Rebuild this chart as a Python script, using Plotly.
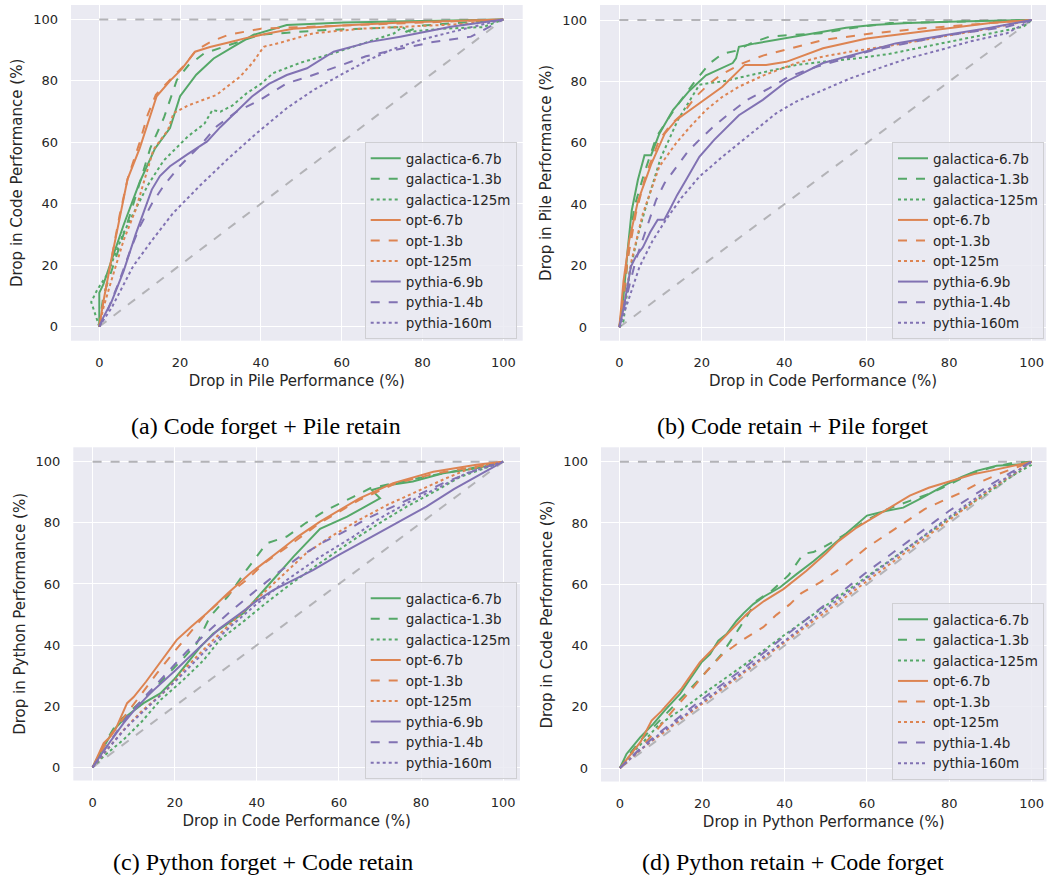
import plotly.graph_objects as go

# ---------------- data ----------------
series_names = ["galactica-6.7b", "galactica-1.3b", "galactica-125m",
                "opt-6.7b", "opt-1.3b", "opt-125m",
                "pythia-6.9b", "pythia-1.4b", "pythia-160m"]

tick_values = [0, 20, 40, 60, 80, 100]
ref_x = [0, 100]
ref_diag_y = [0, 100]
ref_top_y = [100, 100]

# (a) Code forget + Pile retain
a_gal67_x = [0, 0, 1, 6, 10, 13.8, 17.5, 20, 24, 28.3, 33, 38.2, 46.4, 60.5, 80, 100]
a_gal67_y = [0, 11, 13.7, 33, 47, 58, 64.6, 75, 82, 87.3, 91, 95, 98.2, 99, 99.5, 100]
a_gal13_x = [0, 1, 4, 8, 12.6, 16, 19.2, 22, 26, 33, 39.8, 55, 75, 76, 80, 100]
a_gal13_y = [0, 10, 22, 38, 58, 68, 80.3, 85, 89, 92, 95, 96.5, 97.5, 96, 98, 100]
a_gal125_x = [0, -2, -0.5, 2, 6, 12, 15.9, 19, 22, 26, 28, 30, 33, 36.5, 40, 43, 50, 58, 65, 73, 75, 77, 85, 95, 100]
a_gal125_y = [0, 8, 12, 17, 30.5, 46, 54, 58, 62, 66, 70.5, 70, 72, 76, 79, 82.5, 86, 89, 92, 95.5, 97.5, 96, 97, 97.5, 100]
a_opt67_x = [0, 1, 3, 5, 7, 10, 12.5, 14.2, 17.5, 20.5, 23.7, 27.4, 32, 36.5, 42, 48, 60, 75, 100]
a_opt67_y = [0, 8, 22, 35, 48, 58, 68, 75, 80, 84, 89.5, 91, 92.5, 94, 95.5, 97, 98, 99, 100]
a_opt13_x = [0, 1, 3, 5, 7, 10, 12, 14, 18, 21, 24, 28, 32, 40, 50, 60, 80, 100]
a_opt13_y = [0, 8, 22, 36, 48, 60, 69, 75.5, 81, 85, 90, 93, 95, 97, 97.5, 98, 99, 100]
a_opt125_x = [0, 1, 3, 6, 9, 13.4, 17, 18.4, 22, 26, 29, 32, 34.9, 38, 40.7, 45, 53, 65, 80, 90, 100]
a_opt125_y = [0, 6, 15, 28, 38, 57.6, 64, 69.5, 72, 74, 75.4, 78.5, 81.4, 86, 91.1, 92.5, 95.5, 97, 98, 98.5, 100]
a_py69_x = [0, 1, 3, 6, 9, 13, 15, 17.5, 21.7, 26.7, 30, 34, 37.8, 42, 46.4, 51.4, 58, 67, 74.5, 87, 100]
a_py69_y = [0, 3, 8, 18, 30, 44.6, 49, 52.2, 56, 60.3, 65, 70, 74.9, 79, 81.9, 84.1, 89.5, 92.7, 94.4, 97.6, 100]
a_py14_x = [0, 2, 5, 8, 10.1, 13, 16, 19.9, 25, 29.1, 34, 39.8, 46.4, 52, 58.8, 66, 72.9, 82, 92, 100]
a_py14_y = [0, 5, 15, 26, 32.7, 40, 46, 52.2, 59, 65.2, 70, 73.8, 79.2, 81.5, 84.6, 88, 90, 92.5, 94.4, 100]
a_py160_x = [0, 3, 8.4, 13, 18.3, 25, 31.6, 39, 46.4, 53, 60.5, 67, 73, 80, 89, 100]
a_py160_y = [0, 6, 19.7, 28, 37, 46, 54.3, 63, 71.1, 77, 82.5, 87, 90.5, 93.5, 96.5, 100]

# (b) Code retain + Pile forget
b_gal67_x = [0, 1, 2, 3, 4.5, 6.1, 7.7, 9.7, 13, 17, 21, 25, 27.5, 28.3, 29, 33, 40, 47.8, 55, 61.5, 70, 82, 100]
b_gal67_y = [0, 10, 25, 38, 48, 56, 56, 63, 70.7, 77, 82, 84.5, 86, 87.5, 91.3, 92.4, 94, 95.7, 97.5, 98.4, 99, 99.5, 100]
b_gal13_x = [0, 1, 2, 3.6, 6, 9, 13.8, 18.6, 22, 25, 28.3, 32, 36.4, 42, 49, 57, 65.6, 80, 100]
b_gal13_y = [0, 8, 22, 39, 50, 62, 71.8, 80.5, 86, 89, 90, 92.5, 94.6, 95.2, 95.7, 97.5, 99, 99.5, 100]
b_gal125_x = [0, 1, 2.5, 4.5, 6.9, 10, 14.2, 19.4, 22, 25, 31.6, 37, 43, 50, 57.5, 65.6, 73, 81.8, 90, 98, 100]
b_gal125_y = [0, 2, 18, 30, 41.4, 55, 67.5, 78.9, 79.5, 80, 82, 83.5, 85.4, 86.5, 87.5, 89, 91, 93.5, 95.5, 97.8, 100]
b_opt67_x = [0, 1, 2.4, 4.5, 7.7, 11, 13.8, 19.4, 25, 30.4, 35.6, 40.5, 49.4, 60, 73.7, 90, 100]
b_opt67_y = [0, 15, 28.4, 41, 53, 63, 67.5, 73, 78.3, 85.4, 85.4, 86.4, 90.8, 94, 96.2, 99, 100]
b_opt13_x = [0, 1, 2, 4, 6.5, 9.7, 12.5, 15.4, 18.5, 21.9, 25, 30, 35, 39.7, 49.4, 61.5, 73.7, 90, 100]
b_opt13_y = [0, 10, 22, 37, 50, 61, 66, 69.6, 75, 79.4, 82.5, 86, 88.5, 90.2, 93.5, 95.7, 97.3, 99, 100]
b_opt125_x = [0, 1, 3, 5.7, 9.7, 13.8, 17, 21, 25, 29, 35, 43, 49, 56, 65, 73.7, 90, 100]
b_opt125_y = [0, 6, 22, 37, 52.3, 60, 65, 70.7, 75, 78.3, 82, 86, 88, 89.7, 91.5, 93.5, 97.3, 100]
b_py69_x = [0, 1, 2.8, 4, 5.7, 7.5, 9.3, 10.9, 12.1, 14, 16.2, 19.4, 23, 26, 29, 34.8, 40.5, 49.4, 57.5, 67, 81.8, 90, 100]
b_py69_y = [0, 6, 19.7, 23, 26, 31, 35, 35, 38, 43, 48, 55.5, 61, 65, 69, 74, 80, 86, 89, 92.4, 95.7, 97.5, 100]
b_py14_x = [0, 1, 2.5, 4, 6.5, 8.9, 11, 13.8, 16.5, 19.4, 23, 26.7, 31, 36.4, 41, 47.8, 55, 61.5, 70, 77.7, 86, 94, 100]
b_py14_y = [0, 6, 14, 21.9, 32, 41.4, 47, 52.3, 57, 61, 65.5, 69.6, 74, 77.8, 81.5, 84.8, 87.5, 90.2, 92.5, 94.6, 96.3, 97.8, 100]
b_py160_x = [0, 1, 2.5, 4.9, 8, 11.3, 15, 19.4, 25, 30, 38, 43, 49.4, 56, 64, 70, 77.7, 85, 94, 100]
b_py160_y = [0, 4, 10, 19.7, 28, 35, 42, 49, 55.5, 61, 69.6, 73.5, 77.2, 81, 84.8, 87.5, 90.2, 93, 95.7, 100]

# (c) Python forget + Code retain
c_gal67_x = [0, 2, 5.1, 8.5, 12.4, 16.5, 20, 23, 26, 29.4, 33, 36.7, 42.4, 49, 55.4, 62, 70, 68, 72.4, 78, 85.4, 93.5, 100]
c_gal67_y = [0, 5, 12.2, 17, 21, 24.2, 29, 34, 39, 43.8, 47, 50.4, 59, 69, 78, 82, 88, 90.7, 92.4, 93.5, 96.2, 97.8, 100]
c_gal13_x = [0, 3, 5.9, 10, 14, 18, 22, 25.4, 28.6, 33, 37.5, 42.4, 47.3, 52, 57, 63.5, 67.6, 73.2, 83, 92, 100]
c_gal13_y = [0, 8, 14.4, 19.5, 24.2, 30, 35.5, 40.6, 49.3, 56, 64.6, 73.3, 75.5, 80, 84.2, 88.5, 91.3, 92.9, 95.6, 97.8, 100]
c_gal125_x = [0, 3, 7.5, 12, 16.5, 22, 27, 31, 37, 42, 47.3, 55, 63.5, 70, 76.5, 83, 89.5, 95, 100]
c_gal125_y = [0, 4, 9, 15, 22, 28.5, 35, 41.7, 48, 53.5, 59, 66.5, 74.4, 80, 85.3, 90, 95, 97.5, 100]
c_opt67_x = [0, 1, 2.7, 4.3, 5.5, 8.4, 10, 13, 15.7, 20.5, 24, 27.8, 33, 38.4, 45.7, 50, 55.4, 60, 65, 73.2, 83, 93.5, 100]
c_opt67_y = [0, 3, 7.9, 10, 12.2, 21, 23, 28, 33, 41.7, 46, 50.4, 57, 63.5, 71, 75.5, 80.4, 84, 88, 93, 96.7, 99, 100]
c_opt13_x = [0, 1.5, 3.5, 8.4, 12, 15.7, 20, 27, 32, 37.5, 42, 47.3, 55.4, 65, 74, 83.8, 93.5, 100]
c_opt13_y = [0, 3, 9, 17.7, 24.5, 30.8, 38, 49.3, 55.5, 61.3, 67, 72, 80, 87.5, 93, 96.2, 98.4, 100]
c_opt125_x = [0, 3, 7.5, 12, 18, 23, 29.4, 36, 42.4, 47, 52, 58, 65, 72, 79.7, 86, 91, 100]
c_opt125_y = [0, 5, 12.2, 18.5, 25.3, 33, 41.7, 50, 58, 64, 70, 75.5, 81, 86, 90.7, 94.5, 97.3, 100]
c_py69_x = [0, 3, 7.5, 10, 14, 20, 26.2, 31, 36, 40, 44, 49, 53.8, 60, 66.7, 74, 81.3, 88, 95, 100]
c_py69_y = [0, 6, 14.4, 18.5, 24.2, 31.5, 39.5, 45.5, 50.4, 54.5, 58, 61.5, 64.6, 69.5, 74.4, 80, 85.3, 91, 96.2, 100]
c_py14_x = [0, 3, 8.4, 13, 18, 23, 29.4, 34, 39, 44, 50.5, 56, 62, 67, 73.2, 79, 85.4, 93.5, 100]
c_py14_y = [0, 6, 16.6, 23.5, 30.8, 38, 46, 51.5, 57, 62.5, 69, 73.5, 77.6, 81.5, 85.3, 89, 93, 97.3, 100]
c_py160_x = [0, 3, 8.4, 14, 20.5, 27, 33.5, 40, 47.3, 55, 63.5, 70, 78, 85, 91, 100]
c_py160_y = [0, 5, 13.3, 20.5, 28.6, 37.5, 46, 53.5, 61.3, 68.5, 75.5, 81.5, 87.5, 92, 96.2, 100]

# (d) Python retain + Code forget (no pythia-6.9b curve)
d_gal67_x = [0, 1.6, 4.9, 8.1, 11, 14.6, 17, 19.8, 21.9, 23.9, 25.9, 28.3, 30, 32.4, 35, 38.9, 42.9, 47, 51, 54, 56.7, 60, 64.8, 68.8, 73.7, 79.4, 83, 86.6, 91.5, 95, 98, 100]
d_gal67_y = [0, 4.6, 10, 14.4, 19, 24.2, 29, 34.5, 37.2, 41.6, 43.7, 48, 50.5, 53.5, 56, 59, 63.3, 67.5, 72, 75.5, 78.6, 82.4, 84, 85, 88.4, 92.7, 95, 97, 98.7, 99, 99.2, 100]
d_gal13_x = [0, 2, 5, 10, 15, 20, 24.7, 29.1, 33.2, 37, 41, 44.5, 47, 50, 55, 60, 65, 70, 75, 80, 85, 90, 95, 100]
d_gal13_y = [0, 4, 9, 16, 23, 30, 37.2, 45.9, 54.6, 58, 63, 69.9, 70.5, 72.5, 76.5, 81, 84.5, 87, 89.5, 92.5, 96, 98, 99.5, 100]
d_gal125_x = [0, 3, 6, 9, 12, 16, 20, 30, 40, 50, 60, 70, 80, 90, 96, 100]
d_gal125_y = [0, 5, 9, 13.5, 16.5, 20, 24, 33.5, 43.5, 53, 62.5, 72, 81.5, 90.5, 96, 99]
d_opt67_x = [0, 1.5, 3, 5, 7.7, 10, 12, 15, 19.4, 23, 27, 30.8, 35, 39.7, 45.3, 50, 53, 57.5, 60, 65, 70.4, 75, 81.8, 86, 89.9, 95, 100]
d_opt67_y = [0, 2.5, 5, 8.5, 15.5, 18.5, 21.5, 26, 34.5, 39.5, 45, 50.3, 54.5, 58.4, 64.4, 70, 74, 78.5, 80.5, 84.5, 88.9, 91.5, 94.3, 96, 97, 98.5, 100]
d_opt13_x = [0, 3, 6, 9, 13, 17, 21, 25, 30, 34.8, 38, 41.3, 44, 48.6, 51, 55, 60, 65, 70.4, 74, 78.5, 83, 88.3, 92, 96.4, 100]
d_opt13_y = [0, 3.5, 8, 12.5, 19, 25, 31.5, 37.2, 42, 46, 50, 53.5, 57, 60.6, 62.8, 66.5, 72, 76.5, 81.3, 84.5, 87.3, 90, 93.8, 96, 98.2, 100]
d_opt125_x = [0, 5, 10, 20, 30, 40, 50, 60, 70, 80, 90, 100]
d_opt125_y = [0, 6, 11, 21, 31, 41, 51, 61, 71, 81, 91, 100]
d_py14_x = [0, 5, 10, 20, 30, 40, 50, 60, 70, 80, 90, 95, 100]
d_py14_y = [0, 6.5, 12, 22.5, 32.5, 43, 53.5, 64, 74, 84, 92.5, 96.5, 100]
d_py160_x = [0, 5, 10, 20, 30, 40, 50, 60, 70, 80, 90, 100]
d_py160_y = [0, 6, 11.5, 21.5, 31.5, 41.5, 52, 62, 72, 82, 91.5, 100]

x_titles = ["Drop in Pile Performance (%)", "Drop in Code Performance (%)",
            "Drop in Code Performance (%)", "Drop in Python Performance (%)"]
y_titles = ["Drop in Code Performance (%)", "Drop in Pile Performance (%)",
            "Drop in Python Performance (%)", "Drop in Code Performance (%)"]
captions = ["(a) Code forget + Pile retain", "(b) Code retain + Pile forget",
            "(c) Python forget + Code retain", "(d) Python retain + Code forget"]

panel_series = [
    [(a_gal67_x, a_gal67_y), (a_gal13_x, a_gal13_y), (a_gal125_x, a_gal125_y),
     (a_opt67_x, a_opt67_y), (a_opt13_x, a_opt13_y), (a_opt125_x, a_opt125_y),
     (a_py69_x, a_py69_y), (a_py14_x, a_py14_y), (a_py160_x, a_py160_y)],
    [(b_gal67_x, b_gal67_y), (b_gal13_x, b_gal13_y), (b_gal125_x, b_gal125_y),
     (b_opt67_x, b_opt67_y), (b_opt13_x, b_opt13_y), (b_opt125_x, b_opt125_y),
     (b_py69_x, b_py69_y), (b_py14_x, b_py14_y), (b_py160_x, b_py160_y)],
    [(c_gal67_x, c_gal67_y), (c_gal13_x, c_gal13_y), (c_gal125_x, c_gal125_y),
     (c_opt67_x, c_opt67_y), (c_opt13_x, c_opt13_y), (c_opt125_x, c_opt125_y),
     (c_py69_x, c_py69_y), (c_py14_x, c_py14_y), (c_py160_x, c_py160_y)],
    [(d_gal67_x, d_gal67_y), (d_gal13_x, d_gal13_y), (d_gal125_x, d_gal125_y),
     (d_opt67_x, d_opt67_y), (d_opt13_x, d_opt13_y), (d_opt125_x, d_opt125_y),
     None, (d_py14_x, d_py14_y), (d_py160_x, d_py160_y)],
]

# ---------------- style / layout ----------------
W, H = 1047, 880
GREEN, ORANGE, PURPLE = "#55A868", "#DD8452", "#8172B3"
series_colors = [GREEN] * 3 + [ORANGE] * 3 + [PURPLE] * 3
series_dashes = ["solid", "dash", "dot"] * 3
REF_GRAY = "#b3b3b7"
TEXT = "#262626"
BG = "#EAEAF2"

# pixel geometry per panel: (left, right, top, bottom), x range, y range
panels_px = [
    (71, 522.7, 5, 340.7, [-7.0, 104.8], [-4.6, 104.7]),
    (600, 1046, 5, 340.7, [-4.7, 103.5], [-4.4, 104.9]),
    (73.3, 520, 447.3, 780.5, [-4.7, 104.1], [-4.3, 104.7]),
    (601, 1046.5, 447.3, 781.5, [-4.6, 103.6], [-4.4, 104.7]),
]
# legend (right edge, top edge) in pixels
legend_px = [(516.7, 142), (1044, 142), (516.7, 582), (1044, 603)]
caption_px = [(266, 426), (792, 426), (263, 862), (793, 862)]

fig = go.Figure()

for p in range(4):
    sfx = "" if p == 0 else str(p + 1)
    xa, ya = "x" + sfx, "y" + sfx
    lg = "legend" + sfx
    # reference lines
    fig.add_trace(go.Scatter(x=ref_x, y=ref_top_y, mode="lines", xaxis=xa, yaxis=ya,
                             line=dict(color=REF_GRAY, width=2, dash="dash"),
                             showlegend=False, hoverinfo="skip"))
    fig.add_trace(go.Scatter(x=ref_x, y=ref_diag_y, mode="lines", xaxis=xa, yaxis=ya,
                             line=dict(color=REF_GRAY, width=2, dash="dash"),
                             showlegend=False, hoverinfo="skip"))
    for i, s in enumerate(panel_series[p]):
        if s is None:
            continue
        fig.add_trace(go.Scatter(x=s[0], y=s[1], mode="lines", name=series_names[i],
                                 xaxis=xa, yaxis=ya, legend=lg,
                                 line=dict(color=series_colors[i], width=2,
                                           dash=series_dashes[i])))

layout = dict(
    width=W, height=H,
    margin=dict(l=0, r=0, t=0, b=0),
    paper_bgcolor="white", plot_bgcolor=BG,
    font=dict(family="DejaVu Sans", color=TEXT),
    annotations=[],
)

for p in range(4):
    sfx = "" if p == 0 else str(p + 1)
    l, r, t, b, xr, yr = panels_px[p]
    layout["xaxis" + sfx] = dict(
        domain=[l / W, r / W], range=xr, anchor="y" + sfx,
        tickvals=tick_values, showgrid=True, gridcolor="white", gridwidth=1.3,
        zeroline=False, showline=False, ticks="", ticklabelstandoff=12,
        tickfont=dict(size=13, color=TEXT), automargin=False,
        title=dict(text=x_titles[p], font=dict(size=15, color=TEXT), standoff=6),
    )
    layout["yaxis" + sfx] = dict(
        domain=[1 - b / H, 1 - t / H], range=yr, anchor="x" + sfx,
        tickvals=tick_values, showgrid=True, gridcolor="white", gridwidth=1.3,
        zeroline=False, showline=False, ticks="", ticklabelstandoff=12,
        tickfont=dict(size=13, color=TEXT), automargin=False,
        title=dict(text=y_titles[p], font=dict(size=15, color=TEXT), standoff=6),
    )
    lx, ly = legend_px[p]
    layout["legend" + sfx] = dict(
        x=lx / W, y=1 - ly / H, xanchor="right", yanchor="top",
        bgcolor="rgba(234,234,242,0.85)", bordercolor="#cfcfd3", borderwidth=1,
        font=dict(size=13.5, color=TEXT), itemwidth=30, tracegroupgap=0,
    )
    cx, cy = caption_px[p]
    layout["annotations"].append(dict(
        text=captions[p], x=cx / W, y=1 - cy / H, xref="paper", yref="paper",
        xanchor="center", yanchor="middle", showarrow=False,
        font=dict(family="Liberation Serif, Times New Roman, serif", size=24, color="black"),
    ))

fig.update_layout(**layout)
fig.write_html("out.html")
